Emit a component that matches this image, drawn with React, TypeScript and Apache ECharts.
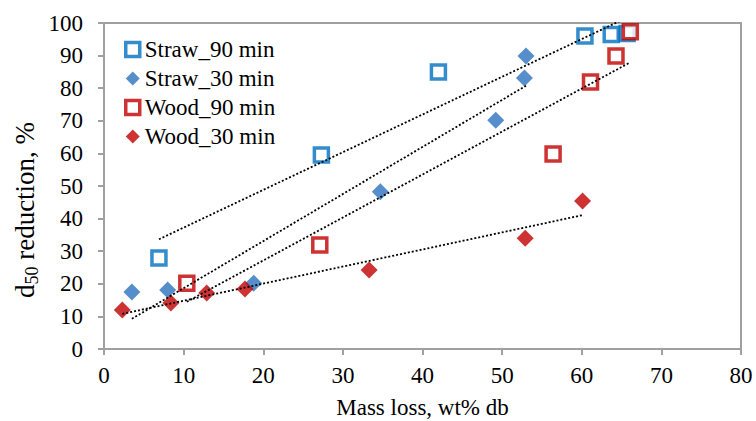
import React, { useEffect, useRef } from "react";
import * as echarts from "echarts";

// Mass loss (wt% db) and d50 reduction (%) for each series
const straw90X = [6.9, 27.3, 42.0, 60.4, 63.7, 65.7];
const straw90Y = [27.9, 59.5, 85.0, 96.0, 96.5, 96.8];
const straw30X = [3.5, 8.0, 18.8, 34.7, 49.2, 52.8, 53.0];
const straw30Y = [17.5, 18.1, 20.2, 48.2, 70.2, 83.1, 89.9];
const wood90X = [10.4, 27.1, 56.4, 61.1, 64.3, 66.1];
const wood90Y = [20.2, 31.9, 59.8, 81.9, 89.9, 97.3];
const wood30X = [2.3, 8.4, 12.9, 17.7, 33.3, 52.9, 60.1];
const wood30Y = [12.0, 14.1, 17.2, 18.4, 24.2, 34.0, 45.4];

const seriesNames = ["Straw_90 min", "Straw_30 min", "Wood_90 min", "Wood_30 min"];
const xTicks = { min: 0, max: 80, interval: 10 };
const yTicks = { min: 0, max: 100, interval: 10 };

const FONT = "Liberation Serif";
const BLUE = "#0070C0";
const BLUE_D = "#2A72BE";
const RED = "#C00000";
const AXIS = "#A0A0A0";

function pairs(xs: number[], ys: number[]) {
  return xs.map((x, i) => [x, ys[i]]);
}

function trend(xs: number[], ys: number[]) {
  const n = xs.length;
  const mx = xs.reduce((a, b) => a + b, 0) / n;
  const my = ys.reduce((a, b) => a + b, 0) / n;
  let sxy = 0;
  let sxx = 0;
  for (let i = 0; i < n; i++) {
    sxy += (xs[i] - mx) * (ys[i] - my);
    sxx += (xs[i] - mx) * (xs[i] - mx);
  }
  const slope = sxy / sxx;
  const icpt = my - slope * mx;
  const x0 = Math.min(...xs);
  const x1 = Math.max(...xs);
  return [
    [x0, icpt + slope * x0],
    [x1, icpt + slope * x1],
  ];
}

export default function App() {
  const ref = useRef<HTMLDivElement>(null);
  useEffect(() => {
    if (!ref.current) return;
    const chart = echarts.init(ref.current, undefined, { renderer: "svg" });
    const hollow = (color: string) => ({
      color: "#ffffff",
      borderColor: color,
      borderWidth: 3.5,
    });
    const trendSeries = (xs: number[], ys: number[]) => ({
      type: "line",
      data: trend(xs, ys),
      showSymbol: false,
      symbol: "none",
      silent: true,
      z: 5,
      lineStyle: { color: "#000", width: 1.8, type: [2, 2] },
      clip: true,
    });
    chart.setOption({
      animation: false,
      textStyle: { fontFamily: FONT },
      grid: {
        left: 104,
        right: 15,
        top: 23,
        bottom: 72,
        outerBoundsMode: "none",
        containLabel: false,
        show: true,
        borderColor: AXIS,
        borderWidth: 2,
        backgroundColor: "transparent",
      },
      legend: {
        orient: "vertical",
        left: 119,
        top: 33,
        itemWidth: 14,
        itemHeight: 14,
        itemGap: 6,
        data: [
          { name: seriesNames[0], icon: "rect", itemStyle: hollow(BLUE) },
          { name: seriesNames[1], icon: "diamond", itemStyle: { color: BLUE_D } },
          { name: seriesNames[2], icon: "rect", itemStyle: hollow(RED) },
          { name: seriesNames[3], icon: "diamond", itemStyle: { color: RED } },
        ],
        textStyle: { fontFamily: FONT, fontSize: 23, color: "#000" },
      },
      xAxis: {
        type: "value",
        min: xTicks.min,
        max: xTicks.max,
        interval: xTicks.interval,
        name: "Mass loss, wt% db",
        nameLocation: "middle",
        nameGap: 47,
        nameTextStyle: { fontFamily: FONT, fontSize: 23, color: "#000" },
        axisLine: { lineStyle: { color: AXIS, width: 2 } },
        axisTick: { show: true, inside: false, length: 6, lineStyle: { color: AXIS, width: 2 } },
        axisLabel: { fontFamily: FONT, fontSize: 23, color: "#000", margin: 15 },
        splitLine: { show: false },
      },
      yAxis: {
        type: "value",
        min: yTicks.min,
        max: yTicks.max,
        interval: yTicks.interval,
        axisLine: { show: true, lineStyle: { color: AXIS, width: 2 } },
        axisTick: { show: true, inside: false, length: 6, lineStyle: { color: AXIS, width: 2 } },
        axisLabel: { fontFamily: FONT, fontSize: 23, color: "#000", margin: 21 },
        splitLine: { show: false },
      },
      graphic: [
        {
          type: "text",
          x: 25,
          y: 210,
          rotation: Math.PI / 2,
          style: {
            text: "{a|d}{s|50}{a| reduction, %}",
            align: "center",
            verticalAlign: "middle",
            fill: "#000",
            rich: {
              a: { fontFamily: FONT, fontSize: 27, lineHeight: 32, fill: "#000", color: "#000" },
              s: {
                fontFamily: FONT,
                fontSize: 18,
                lineHeight: 18,
                verticalAlign: "bottom",
                fill: "#000",
                color: "#000",
              },
            },
          },
        },
      ],
      series: [
        {
          name: seriesNames[0],
          type: "scatter",
          symbol: "rect",
          symbolSize: 14,
          itemStyle: hollow(BLUE),
          data: pairs(straw90X, straw90Y),
          z: 2,
        },
        {
          name: seriesNames[1],
          type: "scatter",
          symbol: "diamond",
          symbolSize: 17,
          itemStyle: { color: BLUE_D },
          data: pairs(straw30X, straw30Y),
          z: 2,
        },
        {
          name: seriesNames[2],
          type: "scatter",
          symbol: "rect",
          symbolSize: 14,
          itemStyle: hollow(RED),
          data: pairs(wood90X, wood90Y),
          z: 2,
        },
        {
          name: seriesNames[3],
          type: "scatter",
          symbol: "diamond",
          symbolSize: 17,
          itemStyle: { color: RED },
          data: pairs(wood30X, wood30Y),
          z: 2,
        },
        trendSeries(straw90X, straw90Y),
        trendSeries(straw30X, straw30Y),
        trendSeries(wood90X, wood90Y),
        trendSeries(wood30X, wood30Y),
      ],
    });
    return () => chart.dispose();
  }, []);
  return <div ref={ref} style={{ width: 756, height: 421, position: "absolute", left: 0, top: 0 }} />;
}
